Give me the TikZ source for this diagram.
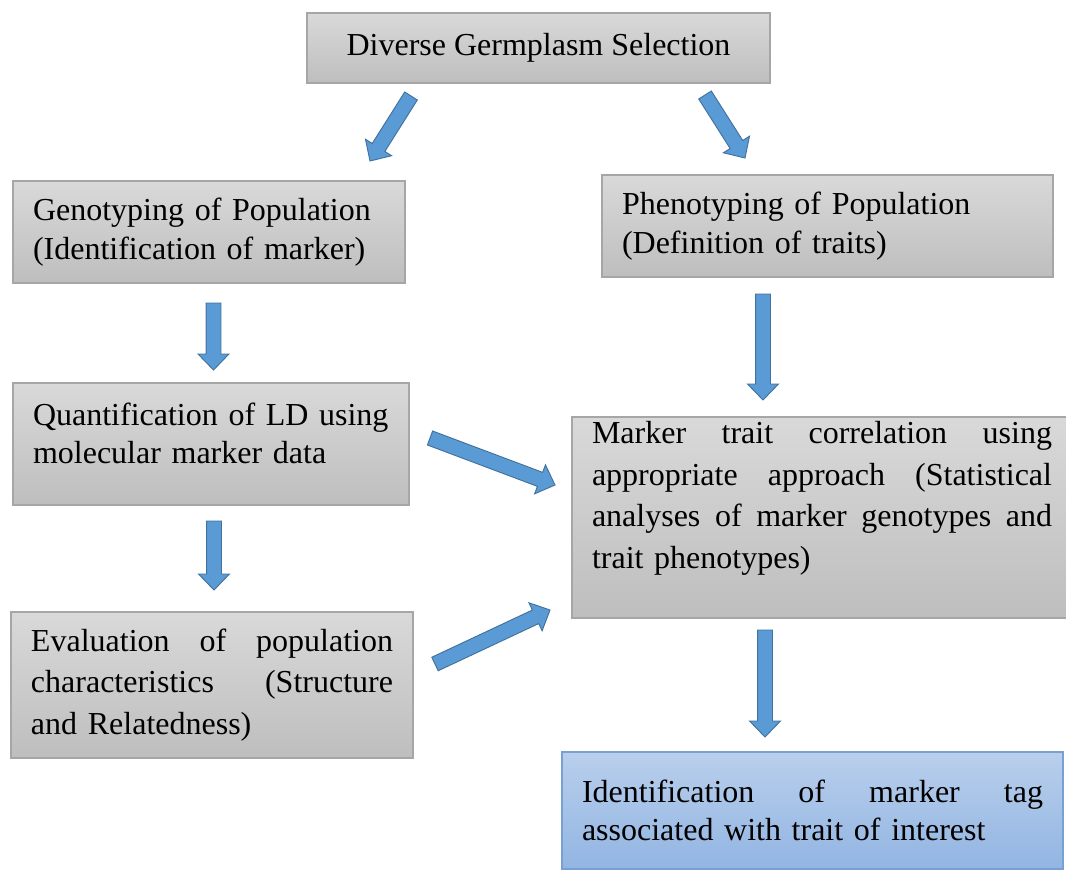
\documentclass[tikz,border=0pt]{standalone}
\usepackage{fontspec}
\setmainfont{Liberation Serif}
\usepackage{tikz}
\usetikzlibrary{calc}
\definecolor{boxTop}{RGB}{217,217,217}
\definecolor{boxBottom}{RGB}{190,190,190}
\definecolor{boxEdge}{RGB}{166,166,166}
\definecolor{blueTop}{RGB}{185,207,236}
\definecolor{blueBottom}{RGB}{146,181,226}
\definecolor{blueEdge}{RGB}{120,160,210}
\definecolor{arrowBlue}{RGB}{91,155,213}
\definecolor{arrowEdge}{RGB}{65,113,156}

% block arrow from #1 (tail) to #2 (tip)
\newcommand{\blockarrow}[2]{%
  \coordinate (ah) at ($(#2)!12pt!(#1)$);
  \draw[fill=arrowBlue, draw=arrowEdge, line width=0.7pt, line join=miter]
    ($(#1)!5.6pt!90:(#2)$) -- ($(ah)!5.6pt!90:(#2)$) -- ($(ah)!11.6pt!90:(#2)$)
    -- (#2) -- ($(ah)!11.6pt!-90:(#2)$) -- ($(ah)!5.6pt!-90:(#2)$)
    -- ($(#1)!5.6pt!-90:(#2)$) -- cycle;}

\begin{document}
\begin{tikzpicture}[x=0.75pt, y=-0.75pt,
    every node/.style={font=\fontsize{24}{29}\selectfont, inner xsep=15pt, inner ysep=0pt},
    grayBox/.style={draw=boxEdge, line width=1pt, top color=boxTop, bottom color=boxBottom, align=left},
    blueBox/.style={draw=blueEdge, line width=1pt, top color=blueTop, bottom color=blueBottom, align=left}]
    \clip (0,0) rectangle (1066,870);

    \node[grayBox, align=center, inner xsep=0pt, minimum width=347.25pt, minimum height=52.5pt] (sel) at (538.5,48)
        {Diverse Germplasm Selection};
    \node[grayBox, text width=264pt, minimum height=76.5pt] (geno) at (209,232)
        {Genotyping of Population\\(Identification of marker)};
    \node[grayBox, text width=308.25pt, minimum height=76.5pt] (pheno) at (827.5,226)
        {Phenotyping of Population\\(Definition of traits)};
    \node[grayBox, text width=267pt, minimum height=91.5pt] (quant) at (211,444)
        {Quantification of LD using\\molecular marker data\rule[-16pt]{0pt}{0pt}};
    \node[grayBox, text width=271.5pt, minimum height=109.5pt, font=\fontsize{24}{31}\selectfont] (eval) at (212,685)
        {Evaluation\hfill of\hfill population\\
         characteristics\hfill (Structure\\
         and Relatedness)};
    \node[grayBox, text width=345pt, minimum height=150.75pt, font=\fontsize{24}{31.3}\selectfont] (mtc) at (822,517.5)
        {Marker\hfill trait\hfill correlation\hfill using\\
         appropriate\hfill approach\hfill (Statistical\\
         analyses\hfill of\hfill marker\hfill genotypes\hfill and\\
         trait phenotypes)\rule[-34pt]{0pt}{0pt}};
    \node[blueBox, text width=345.75pt, minimum height=87.75pt] (tag) at (812.5,810.5)
        {Identification\hfill of\hfill marker\hfill tag\\
         associated with trait of interest};

    % arrow ends
    \coordinate (a1s) at (411,96);   \coordinate (a1e) at (370,161);
    \coordinate (a2s) at (705,95);   \coordinate (a2e) at (745,158);
    \coordinate (a3s) at (213.5,303); \coordinate (a3e) at (213.5,370);
    \coordinate (a4s) at (763,294);  \coordinate (a4e) at (763,400);
    \coordinate (a5s) at (430,438);  \coordinate (a5e) at (555,485);
    \coordinate (a6s) at (214,521);  \coordinate (a6e) at (214,590);
    \coordinate (a7s) at (435,664);  \coordinate (a7e) at (550,610);
    \coordinate (a8s) at (765,630);  \coordinate (a8e) at (765,737);

    \blockarrow{a1s}{a1e}
    \blockarrow{a2s}{a2e}
    \blockarrow{a3s}{a3e}
    \blockarrow{a4s}{a4e}
    \blockarrow{a5s}{a5e}
    \blockarrow{a6s}{a6e}
    \blockarrow{a7s}{a7e}
    \blockarrow{a8s}{a8e}
\end{tikzpicture}
\end{document}
